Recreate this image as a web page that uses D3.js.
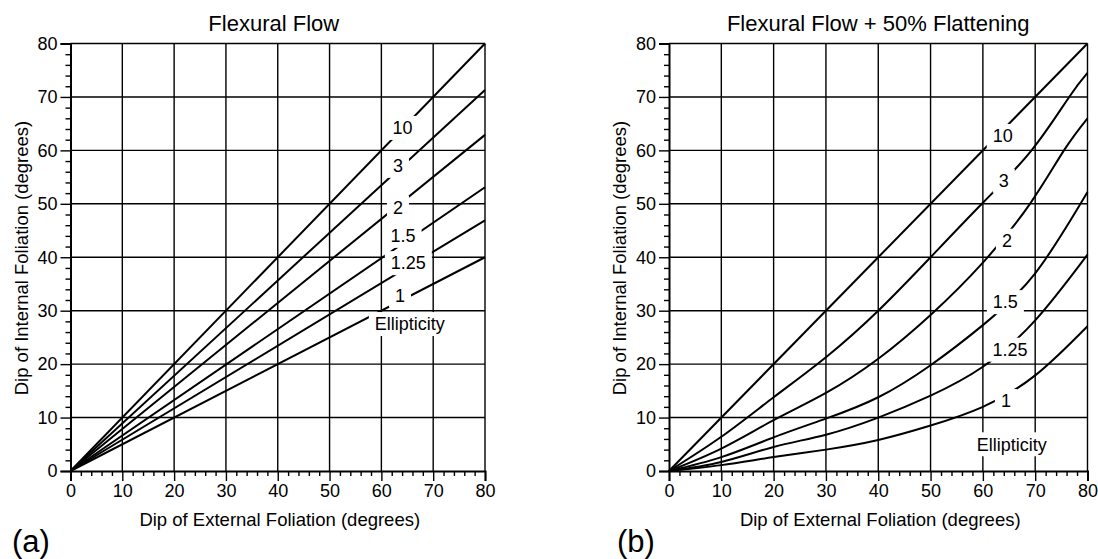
<!DOCTYPE html>
<html>
<head>
<meta charset="utf-8">
<script src="https://cdn.jsdelivr.net/npm/d3@7"></script>
<style>
  body { margin: 0; background: #fff; }
  text { font-family: "Liberation Sans", Arial, Helvetica, sans-serif; fill: #000; }
</style>
</head>
<body>
<svg id="chart" width="1098" height="559"></svg>
<script>
// ellipticity values, one curve each
var ellipticity = ["10", "3", "2", "1.5", "1.25", "1"];
var majorTicks = [0, 10, 20, 30, 40, 50, 60, 70, 80];
var minorTicks = [2, 4, 6, 8, 12, 14, 16, 18, 22, 24, 26, 28, 32, 34, 36, 38,
                  42, 44, 46, 48, 52, 54, 56, 58, 62, 64, 66, 68, 72, 74, 76, 78];

// (a) flexural flow: [external dip, internal dip]
var flexural = [
  [[0, 0], [80, 80]],
  [[0, 0], [80, 71.3]],
  [[0, 0], [80, 62.9]],
  [[0, 0], [80, 53.1]],
  [[0, 0], [80, 46.9]],
  [[0, 0], [80, 40]]
];
// where each ellipticity label sits (data units)
var flexuralLabels = [[64.1, 64.2], [63.2, 57.1], [63.2, 49.3], [64.2, 44], [65.2, 38.9], [63.6, 32.8]];

// (b) flexural flow + 50% flattening
var flattened = [
  [[0, 0], [40, 40], [80, 80]],
  [[0, 0], [10, 6.4], [20, 13.8], [30, 21.3], [40, 30], [50, 40], [60, 50.2], [69.3, 60], [76.5, 70], [80, 74.5]],
  [[0, 0], [10, 4.2], [20, 9.5], [30, 14.6], [40, 21], [50, 29.2], [60, 39], [69, 50], [75.5, 60], [80, 66]],
  [[0, 0], [10, 2.6], [20, 6.3], [30, 9.8], [40, 13.8], [50, 19.8], [60, 27.3], [70, 37], [80, 52.2]],
  [[0, 0], [10, 1.7], [20, 4.5], [30, 6.8], [40, 10], [50, 14.1], [60, 19.5], [70, 28.2], [80, 40.5]],
  [[0, 0], [10, 1.1], [20, 2.6], [30, 4.0], [40, 5.8], [50, 8.5], [60, 12], [70, 17.9], [80, 27.1]]
];
var flattenedLabels = [[63.8, 62.7], [64, 54.3], [64.6, 43.1], [64.3, 31.6], [65.2, 22.7], [64.4, 13.1]];

var svg = d3.select("#chart");

// white boxes first, then the texts, so lines stop around each label
function boxedLabels(g, items, size) {
  var boxes = g.append("g"), texts = g.append("g");
  items.forEach(function(it) {
    var t = texts.append("text")
      .attr("x", it.x).attr("y", it.y)
      .attr("dy", "0.35em")
      .attr("text-anchor", "middle")
      .style("font-size", size + "px")
      .text(it.text);
    var w = t.node().getBBox().width + 12;
    boxes.append("rect")
      .attr("x", it.x - w / 2).attr("y", it.y - 12)
      .attr("width", w).attr("height", 24)
      .attr("fill", "#fff");
  });
}

function drawPanel(opt) {
  var x = d3.scaleLinear().domain([0, 80]).range([opt.left, opt.right]);
  var y = d3.scaleLinear().domain([0, 80]).range([471, 43.5]);
  var g = svg.append("g");

  // grid
  g.selectAll(".vgrid").data(majorTicks.slice(1)).enter().append("line")
    .attr("x1", d => x(d)).attr("x2", d => x(d))
    .attr("y1", y(0)).attr("y2", y(80))
    .attr("stroke", "#000").attr("stroke-width", 1.4);
  g.selectAll(".hgrid").data(majorTicks.slice(1)).enter().append("line")
    .attr("x1", x(0)).attr("x2", x(80))
    .attr("y1", d => y(d)).attr("y2", d => y(d))
    .attr("stroke", "#000").attr("stroke-width", 1.4);

  // curves
  var line = d3.line().x(d => x(d[0])).y(d => y(d[1])).curve(d3.curveNatural);
  g.selectAll(".curve").data(opt.series).enter().append("path")
    .attr("d", line)
    .attr("fill", "none").attr("stroke", "#000").attr("stroke-width", 2);

  // axes: major and minor ticks
  var xMinor = g.append("g").attr("transform", "translate(0," + y(0) + ")")
    .call(d3.axisBottom(x).tickValues(minorTicks).tickSize(5).tickFormat(""));
  var yMinor = g.append("g").attr("transform", "translate(" + x(0) + ",0)")
    .call(d3.axisLeft(y).tickValues(minorTicks).tickSize(5).tickFormat(""));
  var xAxis = g.append("g").attr("transform", "translate(0," + y(0) + ")")
    .call(d3.axisBottom(x).tickValues(majorTicks).tickSize(10).tickPadding(3));
  var yAxis = g.append("g").attr("transform", "translate(" + x(0) + ",0)")
    .call(d3.axisLeft(y).tickValues(majorTicks).tickSize(10).tickPadding(3));
  [xMinor, yMinor].forEach(function(a) { a.select(".domain").remove(); });
  [xMinor, yMinor, xAxis, yAxis].forEach(function(a) {
    a.selectAll("line").attr("stroke", "#000").attr("stroke-width", 1.4);
    a.selectAll("text").style("font-size", "18px").style("font-family", null).attr("fill", "#000");
  });
  [xAxis, yAxis].forEach(function(a) {
    a.select(".domain").attr("stroke", "#000").attr("stroke-width", 2);
  });

  // curve labels + "Ellipticity"
  var items = opt.labels.map(function(p, i) {
    return { x: x(p[0]), y: y(p[1]), text: ellipticity[i] };
  });
  items.push({ x: x(65.5), y: y(opt.ellipY), text: "Ellipticity" });
  boxedLabels(g, items, 18);

  // titles
  var cx = (opt.left + opt.right) / 2;
  g.append("text").attr("x", cx + opt.titleShift).attr("y", 31)
    .attr("text-anchor", "middle").style("font-size", "22px").text(opt.title);
  g.append("text").attr("x", cx + 2).attr("y", 526)
    .attr("text-anchor", "middle").style("font-size", "18.5px")
    .text("Dip of External Foliation (degrees)");
  g.append("text")
    .attr("transform", "translate(" + (opt.left - 43) + "," + 258 + ") rotate(-90)")
    .attr("text-anchor", "middle").style("font-size", "18.5px")
    .text("Dip of Internal Foliation (degrees)");
  g.append("text").attr("x", opt.letterX).attr("y", 552)
    .style("font-size", "31px").text(opt.letter);
}

drawPanel({
  left: 70.5, right: 485, series: flexural, labels: flexuralLabels,
  ellipY: 27.5, title: "Flexural Flow", titleShift: -4, letter: "(a)", letterX: 12
});
drawPanel({
  left: 669, right: 1087.5, series: flattened, labels: flattenedLabels,
  ellipY: 5, title: "Flexural Flow + 50% Flattening", titleShift: 0, letter: "(b)", letterX: 617
});
</script>
</body>
</html>
